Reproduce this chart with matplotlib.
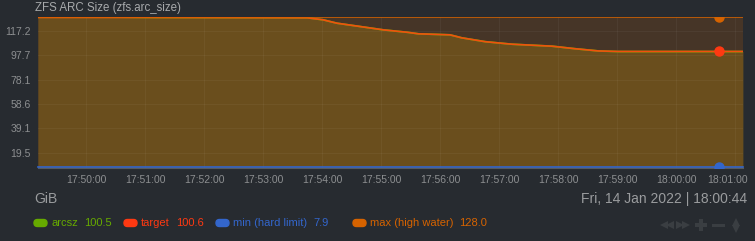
import matplotlib
matplotlib.use("Agg")
import matplotlib.pyplot as plt
from matplotlib.ticker import FuncFormatter
from matplotlib.patches import FancyBboxPatch
from matplotlib.transforms import IdentityTransform, ScaledTranslation

plt.rcParams["font.family"] = ["Liberation Sans", "DejaVu Sans"]

# seconds relative to 17:50:00
t_sec = [-49, 0, 35, 60, 120, 180, 225, 241, 255, 279, 302, 327, 338, 370, 382,
         406, 433, 474, 497, 521, 541, 600, 644, 668]
target = [127.8, 127.8, 127.8, 127.8, 127.7, 127.6, 127.5, 125.9, 123.2, 120.5, 117.9,
          115.9, 114.7, 113.9, 111.5, 108.4, 106.4, 104.8, 102.8, 101.0, 100.6,
          100.6, 100.6, 100.6]
arcsz = [128.0, 128.0, 128.0, 127.8, 127.7, 127.6, 127.5, 125.9, 123.2, 120.5, 117.9,
         115.9, 114.7, 113.9, 111.5, 108.4, 106.4, 104.8, 102.8, 101.0, 100.5,
         100.5, 100.5, 100.5]
min_hard = 7.9
max_high = 128.0

y_ticks = [19.5, 39.1, 58.6, 78.1, 97.7, 117.2]
x_ticks = [0, 60, 120, 180, 240, 300, 360, 420, 480, 540, 600, 660]
sel_t = 644  # 18:00:44

legend_items = [("arcsz", "100.5", "#66aa00"),
                ("target", "100.6", "#fe3912"),
                ("min (hard limit)", "7.9", "#3366cc"),
                ("max (high water)", "128.0", "#d66300")]

bg = "#272b30"
W, H = 755, 241
fig = plt.figure(figsize=(7.55, 2.41), dpi=100)
fig.patch.set_facecolor(bg)
ax = fig.add_axes([38 / W, 1 - 168 / H, 705 / W, 151.3 / H])
ax.set_facecolor(bg)

ymin = 7.4
ax.fill_between(t_sec, ymin, max_high, color="#d66300", alpha=0.18, lw=0, zorder=1)
ax.fill_between(t_sec, ymin, target, color="#b07f0d", alpha=0.35, lw=0, zorder=1)

ax.plot(t_sec, arcsz, color="#66aa00", lw=1.3, zorder=3)
ax.plot(t_sec, target, color="#f0500e", lw=1.2, zorder=4)
ax.plot([t_sec[0], t_sec[-1]], [min_hard, min_hard], color="#3366cc", lw=1.2, zorder=4, clip_on=False)
ax.plot([t_sec[0], t_sec[-1]], [max_high, max_high], color="#d66300", lw=1.1, zorder=4)

ax.plot([sel_t], [max_high], "o", color="#d66300", ms=6.5, zorder=5)
ax.plot([sel_t], [100.6], "o", color="#fe3912", ms=6.5, zorder=5)
ax.plot([sel_t], [min_hard], "o", color="#3366cc", ms=6.5, zorder=5)

ax.set_xlim(-49, 668)
ax.set_ylim(ymin, 128.4)
ax.set_yticks(y_ticks)
ax.set_yticklabels([f"{v:.1f}" for v in y_ticks])
ax.set_xticks(x_ticks)


def fmt(s, pos):
    m = 50 + int(s) // 60
    h = 17 + m // 60
    return f"{h:02d}:{m % 60:02d}:00"


ax.xaxis.set_major_formatter(FuncFormatter(fmt))
ax.tick_params(colors="#8d8f91", labelsize=7.5, length=0, pad=5)
ax.grid(True, color="#ffffff", lw=0.8, alpha=0.045, zorder=2)
for s in ["top", "right", "left"]:
    ax.spines[s].set_visible(False)
ax.spines["bottom"].set_color("#555a60")

fig.canvas.draw()
last = ax.get_xticklabels()[-1]
last.set_transform(last.get_transform() + ScaledTranslation(-8 / 100, 0, fig.dpi_scale_trans))

fig.text(35 / W, 1 - 8 / H, "ZFS ARC Size (zfs.arc_size)", color="#a8aaac",
         fontsize=8.3, va="center")
fig.text(34 / W, 1 - 199 / H, "GiB", color="#9a9c9e", fontsize=10, va="center")
fig.text(747 / W, 1 - 199 / H, "Fri, 14 Jan 2022 | 18:00:44", color="#9a9c9e",
         fontsize=10, va="center", ha="right")

pill_x = [34, 124, 216, 353]
for (name, val, col), px in zip(legend_items, pill_x):
    pill = FancyBboxPatch((px, H - 226.5), 13, 7, boxstyle="round,pad=0,rounding_size=3.5",
                          transform=IdentityTransform(), color=col)
    fig.patches.append(pill)
    t1 = fig.text((px + 17) / W, 1 - 222.5 / H, name, color=col, fontsize=8, va="center")
    fig.canvas.draw()
    bb = t1.get_window_extent()
    fig.text((bb.x1 + 6) / W, 1 - 222.5 / H, val, color=col, fontsize=8, va="center")

# navigation buttons, drawn as markers in a pixel-space overlay
nav_col = "#3a3e42"
ov = fig.add_axes([0, 0, 1, 1], facecolor="none")
ov.set_xlim(0, W)
ov.set_ylim(H, 0)
ov.axis("off")
ov.plot([664, 670], [225, 225], "<", color=nav_col, ms=6, mew=0)
ov.plot([680, 686], [225, 225], ">", color=nav_col, ms=6, mew=0)
ov.plot([701], [225], "P", color=nav_col, ms=9, mew=0)
ov.plot([713, 723], [225, 225], "-", color=nav_col, lw=2.2)
ov.plot([736], [221.5], "^", color=nav_col, ms=6, mew=0)
ov.plot([736], [228.5], "v", color=nav_col, ms=6, mew=0)

fig.savefig("out.png", dpi=100, facecolor=bg)
